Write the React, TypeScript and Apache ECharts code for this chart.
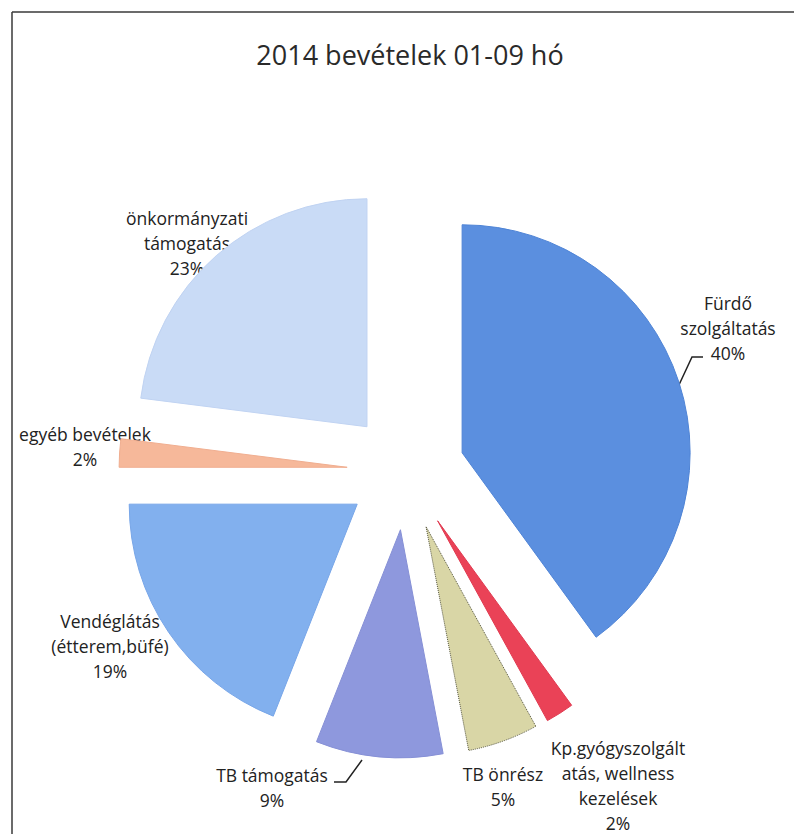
import React, { useEffect, useRef } from "react";
import * as echarts from "echarts";

const TITLE = "2014 bevételek 01-09 hó";
const categories = [
  "Fürdő szolgáltatás",
  "Kp.gyógyszolgáltatás, wellness kezelések",
  "TB önrész",
  "TB támogatás",
  "Vendéglátás (étterem,büfé)",
  "egyéb bevételek",
  "önkormányzati támogatás",
];
const labelText = [
  "Fürdő\nszolgáltatás",
  "Kp.gyógyszolgált\natás, wellness\nkezelések",
  "TB önrész",
  "TB támogatás",
  "Vendéglátás\n(étterem,büfé)",
  "egyéb bevételek",
  "önkormányzati\ntámogatás",
];
const values = [40, 2, 5, 9, 19, 2, 23];
const colors = ["#5b8fdf", "#ea4257", "#d9d6a6", "#8e98dd", "#82b0ee", "#f6b89a", "#c9dbf6"];
const borders = ["#4f84d6", "#e03a50", "#55553f", "#8690d6", "#78a6e8", "#f0ae90", "#c0d3f2"];

// label centres (layout only)
const labelPos = [
  [728, 328],
  [618, 785],
  [503, 786],
  [272, 787],
  [110, 646],
  [85, 446],
  [187, 243],
];

export default function App() {
  const ref = useRef<HTMLDivElement>(null);
  useEffect(() => {
    if (!ref.current) return;
    const chart = echarts.init(ref.current, undefined, { renderer: "svg" });
    const fontFamily = "'Open Sans', 'Noto Sans', sans-serif";
    const total = values.reduce((a, b) => a + b, 0);
    const labels = values.map((v, i) => ({
      type: "text",
      x: labelPos[i][0],
      y: labelPos[i][1],
      style: {
        text: labelText[i] + "\n" + Math.round((v / total) * 100) + "%",
        fill: "#222",
        fontFamily,
        fontSize: 17.5,
        lineHeight: 25,
        align: "center",
        verticalAlign: "middle",
      },
    }));
    chart.setOption({
      animation: false,
      backgroundColor: "#ffffff",
      title: {
        text: TITLE,
        left: 405,
        top: 36,
        textAlign: "center",
        textStyle: { fontFamily, fontSize: 27, fontWeight: "normal", color: "#2a2a2a" },
      },
      graphic: [
        { type: "line", shape: { x1: 12, y1: 12, x2: 794, y2: 12 }, style: { stroke: "#3a3a3a", lineWidth: 1.5 } },
        { type: "line", shape: { x1: 12, y1: 12, x2: 12, y2: 834 }, style: { stroke: "#3a3a3a", lineWidth: 1.5 } },
        { type: "polyline", shape: { points: [[678, 387], [692, 357], [703, 357]] }, style: { stroke: "#222", lineWidth: 1.5, fill: null } },
        { type: "polyline", shape: { points: [[362, 760], [346, 782], [334, 782]] }, style: { stroke: "#222", lineWidth: 1.5, fill: null } },
        ...labels,
      ],
      series: [
        {
          type: "pie",
          center: [406, 471],
          radius: 228,
          startAngle: 90,
          clockwise: true,
          selectedMode: "multiple",
          selectedOffset: 59,
          avoidLabelOverlap: false,
          emphasis: { disabled: true },
          label: { show: false },
          labelLine: { show: false },
          data: categories.map((name, i) => ({
            name,
            value: values[i],
            selected: true,
            itemStyle: {
              color: colors[i],
              borderColor: borders[i],
              borderWidth: 1,
              borderType: i === 2 ? "dotted" : "solid",
            },
          })),
        },
      ],
    });
    return () => chart.dispose();
  }, []);
  return (
    <div
      ref={ref}
      style={{ position: "absolute", left: 0, top: 0, width: 794, height: 834, background: "#fff" }}
    />
  );
}
